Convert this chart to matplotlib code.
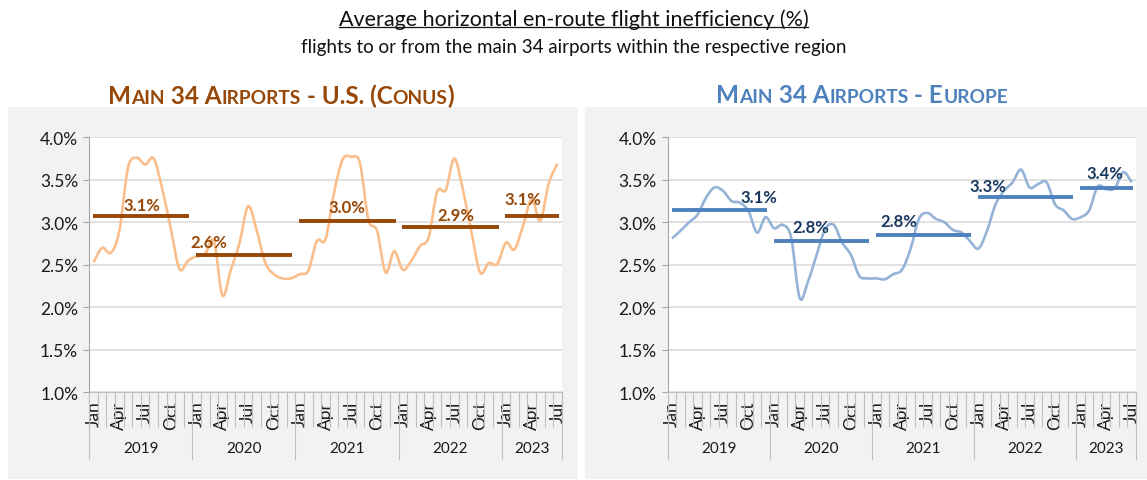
import matplotlib
matplotlib.use("Agg")
import matplotlib.pyplot as plt
import numpy as np
from matplotlib.path import Path
from matplotlib.patches import PathPatch, Rectangle
from matplotlib.lines import Line2D
from matplotlib.offsetbox import TextArea, HPacker, AnnotationBbox
from matplotlib.ticker import PercentFormatter
import matplotlib.transforms as mtransforms

plt.rcParams['font.family'] = ['Lato', 'DejaVu Sans']

# ---- data (monthly values in %, Jan 2019 - Jul 2023) ----
years = ['2019', '2020', '2021', '2022', '2023']
months = ['Jan', 'Feb', 'Mar', 'Apr', 'May', 'Jun',
          'Jul', 'Aug', 'Sep', 'Oct', 'Nov', 'Dec']
month_labels = (months * 5)[:55]

us_monthly = [2.53, 2.70, 2.64, 2.90, 3.64, 3.76, 3.68, 3.75, 3.39, 2.92, 2.45, 2.55,
              2.60, 2.63, 2.78, 2.14, 2.45, 2.76, 3.19, 2.90, 2.52, 2.39, 2.34, 2.34,
              2.39, 2.43, 2.78, 2.80, 3.35, 3.74, 3.77, 3.70, 3.03, 2.90, 2.41, 2.66,
              2.44, 2.55, 2.72, 2.82, 3.36, 3.38, 3.75, 3.38, 2.88, 2.41, 2.52, 2.51,
              2.76, 2.68, 2.96, 3.27, 3.02, 3.46, 3.69]
eu_monthly = [2.81, 2.90, 3.00, 3.09, 3.29, 3.41, 3.37, 3.25, 3.23, 3.13, 2.88, 3.06,
              2.93, 2.97, 2.82, 2.11, 2.31, 2.62, 2.92, 2.97, 2.76, 2.62, 2.37, 2.34,
              2.34, 2.33, 2.39, 2.44, 2.68, 3.04, 3.11, 3.04, 3.00, 2.91, 2.88, 2.78,
              2.69, 2.90, 3.21, 3.37, 3.47, 3.62, 3.41, 3.45, 3.47, 3.21, 3.14, 3.04,
              3.06, 3.14, 3.42, 3.39, 3.40, 3.59, 3.47]

us_avg = [3.07, 2.62, 3.01, 2.94, 3.08]
us_avg_labels = ['3.1%', '2.6%', '3.0%', '2.9%', '3.1%']
eu_avg = [3.14, 2.78, 2.85, 3.30, 3.40]
eu_avg_labels = ['3.1%', '2.8%', '2.8%', '3.3%', '3.4%']

# label placement (month index, vertical offset in points)
us_label_x = [5.6, 13.4, 29.5, 42.2, 50.0]
us_label_dy = [4.5, 5.5, 6.8, 5.0, 8.5]
eu_label_x = [10.2, 16.3, 26.6, 37.1, 50.9]
eu_label_dy = [6.2, 6.2, 6.2, 4.3, 7.4]


def smooth_path(xs, ys):
    # Excel-like smoothed line as cubic Bezier segments
    pts = np.column_stack([xs, ys]).astype(float)
    n = len(pts)
    verts = [pts[0]]
    codes = [Path.MOVETO]
    for i in range(n - 1):
        p0 = pts[max(i - 1, 0)]
        p1 = pts[i]
        p2 = pts[i + 1]
        p3 = pts[min(i + 2, n - 1)]
        c1 = p1 + (p2 - p0) / 6.0
        c2 = p2 - (p3 - p1) / 6.0
        verts += [c1, c2, p2]
        codes += [Path.CURVE4] * 3
    return Path(verts, codes)


def draw_panel(ax, monthly, avg, avg_labels, label_x, label_dy,
               line_color, bar_color, label_color):
    x = np.arange(len(monthly))
    ax.add_patch(PathPatch(smooth_path(x, monthly), facecolor='none',
                           edgecolor=line_color, lw=1.9, zorder=3))
    for k, val in enumerate(avg):
        start = 12 * k
        end = min(12 * k + 11, len(monthly) - 1)
        ax.hlines(val, start - 0.05, end + 0.15, color=bar_color, lw=2.8, zorder=4)
        ax.annotate(avg_labels[k], (label_x[k], val), xytext=(0, label_dy[k]),
                    textcoords='offset points', ha='center', va='baseline',
                    fontsize=12, fontweight='bold', color=label_color, zorder=5)

    ax.set_xlim(-0.5, len(monthly) - 0.5)
    ax.set_ylim(1.0, 4.0)
    ax.set_yticks(np.arange(1.0, 4.01, 0.5))
    ax.yaxis.set_major_formatter(PercentFormatter(xmax=100, decimals=1))
    ax.grid(axis='y', color='#D9D9D9', lw=1.1, zorder=0)
    ax.set_axisbelow(True)
    for s in ['top', 'right']:
        ax.spines[s].set_visible(False)
    ax.spines['left'].set_color('#A6A6A6')
    ax.spines['bottom'].set_color('#BFBFBF')
    ax.tick_params(axis='y', length=4, color='#A6A6A6', labelsize=12.5,
                   labelcolor='#1A1A1A', pad=4)

    tick_pos = list(range(0, len(monthly), 3))
    ax.set_xticks(tick_pos)
    ax.set_xticklabels([month_labels[i] for i in tick_pos], rotation=90,
                       fontsize=12.5, color='#1A1A1A')
    ax.tick_params(axis='x', which='major', length=0, pad=6)
    ax.set_xticks(np.arange(-0.5, len(monthly), 1.0), minor=True)
    ax.tick_params(axis='x', which='minor', length=25, color='#BFBFBF', width=0.8)

    trans = mtransforms.blended_transform_factory(ax.transData, ax.transAxes)
    bounds = [-0.5, 11.5, 23.5, 35.5, 47.5, len(monthly) - 0.5]
    for b in bounds:
        ax.plot([b, b], [0, -0.262], transform=trans, clip_on=False,
                color='#BFBFBF', lw=0.8)
    for k, yr in enumerate(years):
        ax.text((bounds[k] + bounds[k + 1]) / 2, -0.218, yr, transform=trans,
                ha='center', va='center', fontsize=11, color='#1A1A1A')


def smallcaps_title(fig, parts, xy, color):
    boxes = []
    for txt, big in parts:
        boxes.append(TextArea(txt, textprops=dict(fontsize=17.5 if big else 13.8,
                                                  fontweight='bold', color=color)))
    pack = HPacker(children=boxes, align='baseline', pad=0, sep=0)
    ab = AnnotationBbox(pack, xy, xycoords='figure pixels', frameon=False,
                        box_alignment=(0.5, 0.5))
    fig.add_artist(ab)


fig = plt.figure(figsize=(11.47, 4.81), dpi=100)
W, H = 1147, 481

# grey panels
fig.add_artist(Rectangle((8 / W, 1 / H), 570 / W, 372 / H, transform=fig.transFigure,
                         facecolor='#F2F2F2', edgecolor='none', zorder=0))
fig.add_artist(Rectangle((585 / W, 1 / H), 562 / W, 372 / H, transform=fig.transFigure,
                         facecolor='#F2F2F2', edgecolor='none', zorder=0))

ax1 = fig.add_axes([89.3 / W, 87.7 / H, 472.4 / W, 255 / H])
ax2 = fig.add_axes([667.7 / W, 87.7 / H, 468.3 / W, 255 / H])

draw_panel(ax1, us_monthly, us_avg, us_avg_labels, us_label_x, us_label_dy,
           '#F9BE8C', '#974706', '#974706')
draw_panel(ax2, eu_monthly, eu_avg, eu_avg_labels, eu_label_x, eu_label_dy,
           '#95B3D7', '#4F81BD', '#17375E')

smallcaps_title(fig, [('M', True), ('AIN', False), (' 34 A', True), ('IRPORTS', False),
                      (' - U.S. (C', True), ('ONUS', False), (')', True)],
                (281, H - 96), '#974706')
smallcaps_title(fig, [('M', True), ('AIN', False), (' 34 A', True), ('IRPORTS', False),
                      (' - E', True), ('UROPE', False)],
                (862, H - 96), '#4F81BD')

title = fig.text(0.5, 1 - 20 / H, 'Average horizontal en-route flight inefficiency (%)',
                 ha='center', va='center', fontsize=15.5, color='#111111')
fig.text(0.5, 1 - 47 / H, 'flights to or from the main 34 airports within the respective region',
         ha='center', va='center', fontsize=13.5, color='#111111')

fig.canvas.draw()
bb = title.get_window_extent(fig.canvas.get_renderer())
inv = fig.transFigure.inverted()
(x0, y0), (x1, _) = inv.transform([(bb.x0, bb.y0 + 2), (bb.x1, bb.y0 + 2)])
fig.add_artist(Line2D([x0, x1], [y0, y0], transform=fig.transFigure,
                      color='#111111', lw=0.9))

fig.savefig('out.png', dpi=100)
